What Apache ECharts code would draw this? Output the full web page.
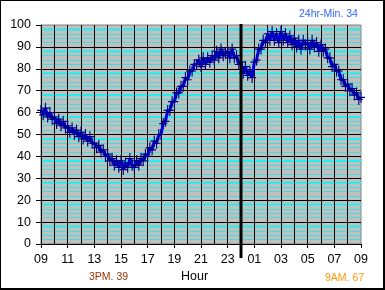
<!DOCTYPE html>
<html><head><meta charset="utf-8">
<script src="https://cdn.jsdelivr.net/npm/echarts@6/dist/echarts.min.js"></script>
<style>
html,body{margin:0;padding:0;background:#fff;}
#c{width:385px;height:290px;box-sizing:border-box;border:1px solid #000;border-right-width:2px;border-bottom-width:2px;}
</style></head><body>
<div id="c"></div>
<script>
// hour tick labels (every 2 hours, starting 09:00)
const tickLabels = ['09','11','13','15','17','19','21','23','01','03','05','07','09'];
// readings every 10 minutes from 09:00 to 09:00 next day
const minutesStep = 10;
const humidity = [
  61,59,62,58,60,57,
  58,55,57,54,56,53,
  54,51,53,50,52,49,
  51,48,50,47,49,46,
  46,44,45,42,43,40,
  41,38,39,36,38,35,
  38,34,37,35,39,36,
  35,38,36,39,38,41,
  40,44,43,47,46,50,
  50,55,56,61,61,65,
  65,69,69,72,72,76,
  75,79,79,82,82,84,
  81,85,82,85,83,86,
  84,88,85,89,86,87,
  88,85,89,85,86,82,
  83,78,81,77,79,76,
  83,84,89,89,93,92,
  96,93,97,93,96,92,
  97,93,96,92,95,91,
  94,90,93,89,93,91,
  92,89,93,90,92,88,
  91,88,89,85,85,81,
  82,79,79,75,75,72,
  73,70,71,68,69,66,
  67
];
const midnightHour = [15];
const brightGridValues = [8,18,28,38,48,58,68,78,88,98];
const titleText = '24hr-Min. 34';
const minText = '3PM. 39';
const endText = '9AM. 67';
const xName = 'Hour';

const seriesData = humidity.map((v,i)=>[i*minutesStep/60, v]);
const FONT = 'Liberation Sans, Arial, sans-serif';

const chart = echarts.init(document.getElementById('c'), null, {renderer:'canvas'});
chart.setOption({
  animation:false,
  backgroundColor:'#fff',
  grid:{left:40,top:24,width:320,height:219,show:true,backgroundColor:'#c0c0c0',borderColor:'#808080',borderWidth:1,z:-2},
  title:[
    {text:titleText,left:298,top:8,padding:0,textStyle:{color:'#3366ff',fontFamily:FONT,fontSize:10.5,fontWeight:'normal'}},
    {text:minText,left:88,top:271,padding:0,textStyle:{color:'#993300',fontFamily:FONT,fontSize:10.5,fontWeight:'normal'}},
    {text:xName,left:180,top:269,padding:0,textStyle:{color:'#000',fontFamily:FONT,fontSize:12.5,fontWeight:'normal'}},
    {text:endText,left:324,top:272,padding:0,textStyle:{color:'#ff9900',fontFamily:FONT,fontSize:10.5,fontWeight:'normal'}}
  ],
  xAxis:{
    type:'value',min:0,max:24,interval:2,z:0,
    axisLine:{show:true,lineStyle:{color:'#000',width:1}},
    axisTick:{show:true,length:4,lineStyle:{color:'#000'}},
    axisLabel:{margin:9,color:'#000',fontFamily:FONT,fontSize:12.5,formatter:v=>tickLabels[Math.round(v/2)]},
    splitLine:{show:true,showMaxLine:false,lineStyle:{color:'#000',width:1}},
    minorTick:{show:false,splitNumber:2},
    minorSplitLine:{show:true,lineStyle:{color:'#000',width:1}}
  },
  yAxis:{
    type:'value',min:0,max:100,interval:10,z:-1,
    axisLine:{show:true,lineStyle:{color:'#000',width:1}},
    axisTick:{show:true,length:5,lineStyle:{color:'#000'}},
    axisLabel:{margin:10,color:'#000',fontFamily:FONT,fontSize:12.5},
    splitLine:{show:true,showMaxLine:false,lineStyle:{color:'#000',width:1}},
    minorTick:{show:false,splitNumber:5},
    minorSplitLine:{show:true,lineStyle:{color:'#40e0e0',width:1}}
  },
  series:[
    {
      type:'custom',z:-1.5,silent:true,
      data:brightGridValues.map(v=>[v]),
      renderItem:(params,api)=>{
        const p1=api.coord([0,api.value(0)]);
        const p2=api.coord([24,api.value(0)]);
        return {type:'line',shape:{x1:p1[0],y1:p1[1],x2:p2[0],y2:p2[1]},style:{stroke:'#00ffff',lineWidth:2}};
      }
    },
    {
      type:'line',data:seriesData,z:2,
      symbol:'path://M3,0H4V4H7V5H4V9H3V5H0V4H3Z',symbolSize:[8,11],
      itemStyle:{color:'#000080'},
      lineStyle:{color:'#0000ff',width:3},
      showAllSymbol:true
    },
    {
      type:'custom',z:5,silent:true,clip:false,
      data:midnightHour.map(v=>[v]),
      renderItem:(params,api)=>{
        const top=api.coord([api.value(0),100]);
        const bot=api.coord([api.value(0),0]);
        return {type:'line',shape:{x1:top[0],y1:top[1]-1,x2:bot[0],y2:bot[1]+14},style:{stroke:'#000',lineWidth:3}};
      }
    }
  ]
});
</script>
</body></html>
